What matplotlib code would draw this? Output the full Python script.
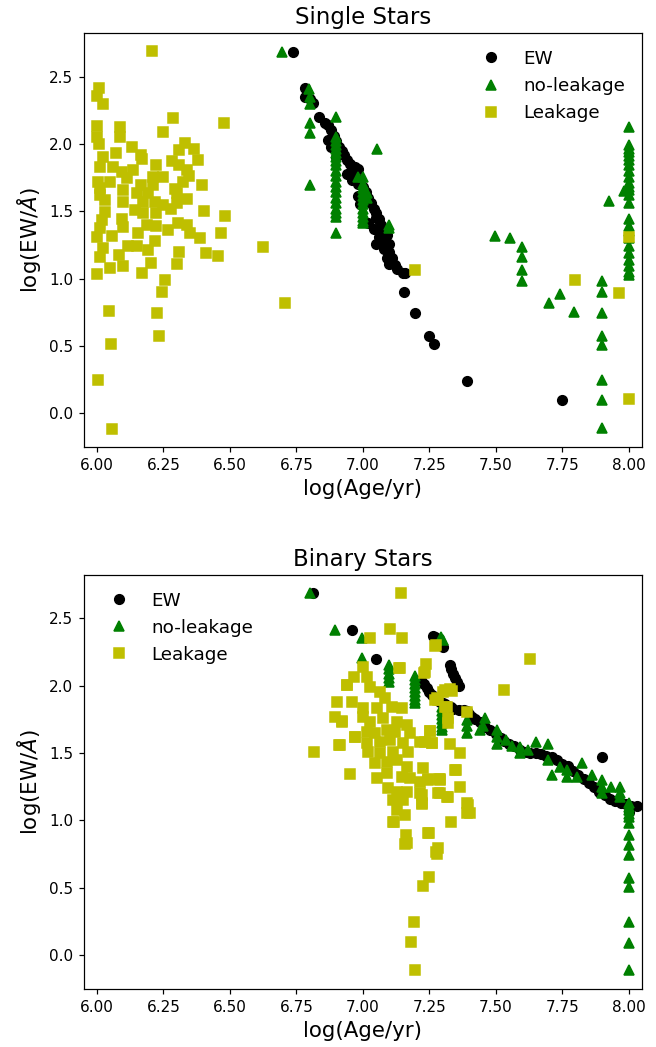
import matplotlib
matplotlib.use('Agg')
import matplotlib.pyplot as plt

# Single stars
# ------------
single_ew_age = [6.738, 6.782, 6.782, 6.80, 6.813, 6.836, 6.857,
                 6.87, 6.88, 6.87, 6.88, 6.89, 6.90, 6.90, 6.91, 6.92, 6.93, 6.94, 6.94,
                 6.95, 6.96, 6.97, 6.98, 6.96, 6.97, 6.98, 6.99, 7.00, 6.98, 7.01, 7.02,
                 6.99, 7.03, 7.04, 7.05, 7.05, 7.06, 7.02, 7.07, 7.04, 7.08, 7.06, 7.09,
                 7.05, 7.08, 7.10, 7.08, 7.10, 7.09, 7.11, 7.10, 7.12, 7.13, 7.15,
                 7.158, 7.156, 7.196, 7.249, 7.269, 7.393, 7.748]
single_ew_val = [2.685, 2.413, 2.35, 2.33, 2.30, 2.197, 2.153,
                 2.14, 2.10, 2.03, 1.98, 2.06, 2.02, 1.905, 1.98, 1.95, 1.92, 1.88, 1.78,
                 1.85, 1.82, 1.83, 1.81, 1.73, 1.76, 1.70, 1.72, 1.68, 1.61, 1.64, 1.60,
                 1.55, 1.56, 1.52, 1.49, 1.45, 1.44, 1.41, 1.40, 1.37, 1.36, 1.31, 1.32,
                 1.26, 1.27, 1.26, 1.22, 1.20, 1.15, 1.15, 1.11, 1.10, 1.07, 1.04,
                 1.044, 0.903, 0.742, 0.574, 0.512, 0.242, 0.099]

single_noleak_age = [6.697, 6.798, 6.80, 6.80, 6.80, 6.80, 6.80, 6.898,
                     6.898, 6.898, 6.898, 6.898, 6.898, 6.898, 6.898, 6.898, 6.898, 6.898,
                     6.898, 6.898, 6.898, 6.898, 6.898, 6.898, 6.898, 6.898, 6.898,
                     7.055, 6.983, 7.002,
                     7.00, 7.00, 7.00, 7.00, 7.00, 7.00, 7.00, 7.00, 7.00, 7.00, 7.00,
                     7.014, 7.014, 7.099, 7.099,
                     7.497, 7.553, 7.60, 7.60, 7.60, 7.60, 7.70, 7.741, 7.794,
                     7.90, 7.90, 7.90, 7.90, 7.90, 7.90, 7.90, 7.90, 7.925,
                     8.00, 8.00, 8.00, 8.00, 8.00, 8.00, 8.00, 8.00, 8.00, 8.00, 8.00, 8.00,
                     8.00, 8.00, 8.00, 8.00, 8.00, 8.00, 8.00, 8.00, 8.00, 8.00, 8.00, 8.00,
                     7.983]
single_noleak_val = [2.682, 2.405, 2.35, 2.296, 2.153, 2.083, 1.695, 2.197,
                     2.054, 2.02, 1.99, 1.96, 1.93, 1.90, 1.87, 1.84, 1.80, 1.76,
                     1.72, 1.68, 1.64, 1.60, 1.56, 1.52, 1.49, 1.46, 1.336,
                     1.962, 1.757, 1.757,
                     1.70, 1.67, 1.64, 1.61, 1.58, 1.55, 1.52, 1.49, 1.46, 1.43, 1.41,
                     1.633, 1.60, 1.373, 1.40,
                     1.316, 1.299, 1.232, 1.163, 1.064, 0.985, 0.817, 0.883, 0.754,
                     0.985, 0.898, 0.742, 0.574, 0.507, 0.247, 0.099, -0.111, 1.576,
                     2.128, 1.991, 1.96, 1.94, 1.91, 1.88, 1.84, 1.80, 1.757, 1.71, 1.68, 1.66,
                     1.62, 1.56, 1.44, 1.39, 1.35, 1.30, 1.24, 1.19, 1.14, 1.09, 1.05, 1.03,
                     1.65]

single_leak_age = [6.207, 6.008, 6.00, 6.024, 6.287, 6.476, 6.00, 6.088, 6.248, 6.088,
                   6.00, 6.008, 6.130, 6.332, 6.364, 6.308, 6.070, 6.165, 6.021, 6.168,
                   6.380, 6.281, 6.223, 6.308, 6.011, 6.061, 6.337, 6.137, 6.093, 6.247,
                   6.209, 6.346, 6.112, 6.003, 6.049, 6.325, 6.396, 6.165, 6.209, 6.011,
                   6.099, 6.293, 6.149, 6.193, 6.011, 6.300, 6.337, 6.030, 6.099, 6.174,
                   6.218, 6.249, 6.300, 6.143, 6.174, 6.222, 6.030, 6.277, 6.402, 6.481,
                   6.018, 6.093, 6.097, 6.011, 6.222, 6.187, 6.306, 6.337, 6.268, 6.350,
                   6.155, 6.387, 6.465, 6.00, 6.058, 6.218, 6.118, 6.149, 6.021, 6.625,
                   6.191, 6.308, 6.409, 6.456, 6.084, 6.011, 6.302, 6.202, 6.097, 6.049,
                   6.168, 6.00, 6.255, 6.244, 6.046, 6.227, 6.054, 6.232, 6.004, 6.058,
                   6.706, 7.196, 8.00, 7.798, 7.963, 8.00]
single_leak_val = [2.687, 2.413, 2.356, 2.296, 2.195, 2.153, 2.135, 2.128, 2.088, 2.054,
                   2.054, 1.997, 1.979, 2.009, 1.962, 1.955, 1.930, 1.918, 1.905, 1.886,
                   1.880, 1.873, 1.843, 1.843, 1.831, 1.831, 1.806, 1.806, 1.794, 1.757,
                   1.757, 1.764, 1.745, 1.720, 1.720, 1.720, 1.695, 1.695, 1.695, 1.670,
                   1.658, 1.663, 1.633, 1.633, 1.621, 1.633, 1.589, 1.584, 1.571, 1.571,
                   1.571, 1.546, 1.564, 1.509, 1.489, 1.489, 1.497, 1.514, 1.502, 1.467,
                   1.435, 1.440, 1.385, 1.378, 1.393, 1.398, 1.411, 1.398, 1.361, 1.341,
                   1.336, 1.304, 1.336, 1.311, 1.316, 1.281, 1.242, 1.244, 1.229, 1.237,
                   1.212, 1.195, 1.188, 1.168, 1.175, 1.163, 1.106, 1.114, 1.094, 1.077,
                   1.044, 1.037, 0.987, 0.903, 0.760, 0.745, 0.512, 0.572, 0.245, -0.114,
                   0.821, 1.064, 1.307, 0.990, 0.891, 0.104]

# Binary stars
# ------------
binary_ew_age = [6.813, 6.958, 7.049,
                 7.262, 7.272, 7.285, 7.295, 7.302,
                 7.328, 7.333, 7.34, 7.347, 7.355, 7.363,
                 7.22, 7.23, 7.24, 7.25, 7.26, 7.27, 7.28, 7.29, 7.30, 7.31, 7.32, 7.33,
                 7.34, 7.36, 7.38, 7.39, 7.40, 7.41, 7.42, 7.44, 7.45, 7.46, 7.48, 7.50,
                 7.52, 7.53, 7.55, 7.57, 7.59, 7.61, 7.63, 7.65, 7.67, 7.69, 7.71, 7.73,
                 7.75, 7.77, 7.79, 7.81, 7.83, 7.85, 7.87, 7.89, 7.91, 7.93, 7.95, 7.97,
                 7.99, 8.01, 8.03, 7.898, 8.00]
binary_ew_val = [2.69, 2.413, 2.195,
                 2.37, 2.36, 2.345, 2.31, 2.29,
                 2.15, 2.12, 2.09, 2.06, 2.03, 2.00,
                 2.04, 2.01, 1.98, 1.95, 1.93, 1.91, 1.89, 1.88, 1.87, 1.86, 1.85, 1.84,
                 1.83, 1.82, 1.82, 1.81, 1.79, 1.77, 1.75, 1.73, 1.71, 1.69, 1.67, 1.64,
                 1.61, 1.59, 1.57, 1.55, 1.52, 1.51, 1.50, 1.50, 1.49, 1.48, 1.47, 1.45,
                 1.42, 1.40, 1.37, 1.34, 1.31, 1.28, 1.25, 1.21, 1.19, 1.16, 1.14, 1.13,
                 1.12, 1.11, 1.11, 1.472, 1.06]

binary_noleak_age = [6.80, 6.895, 6.995, 6.995,
                     7.098, 7.098, 7.098, 7.098, 7.098,
                     7.196, 7.196, 7.196, 7.196, 7.196, 7.196, 7.196, 7.196,
                     7.30, 7.295,
                     7.296, 7.296, 7.296, 7.296, 7.296, 7.296, 7.296,
                     7.39, 7.39, 7.39, 7.459, 7.44, 7.45, 7.503, 7.503, 7.503, 7.54, 7.56,
                     7.591, 7.591, 7.62, 7.653, 7.697, 7.697, 7.71, 7.741, 7.766, 7.766,
                     7.804, 7.825, 7.86, 7.898, 7.898, 7.898, 7.935, 7.967, 7.967, 7.967,
                     8.00, 8.00, 8.00, 8.00, 8.00, 8.00, 8.00, 8.00, 8.00, 8.00, 8.00,
                     8.00, 8.00, 8.00]
binary_noleak_val = [2.69, 2.413, 2.351, 2.203,
                     2.15, 2.12, 2.09, 2.06, 2.03,
                     2.07, 2.04, 2.01, 1.98, 1.95, 1.92, 1.89, 1.87,
                     2.34, 2.36,
                     1.84, 1.81, 1.78, 1.75, 1.72, 1.69, 1.67,
                     1.745, 1.70, 1.65, 1.757, 1.67, 1.70, 1.67, 1.62, 1.57, 1.596, 1.55,
                     1.546, 1.50, 1.52, 1.583, 1.566, 1.448, 1.336, 1.398, 1.373, 1.324,
                     1.324, 1.423, 1.336, 1.30, 1.25, 1.20, 1.25, 1.25, 1.20, 1.175,
                     1.126, 1.10, 1.076, 1.05, 1.027, 0.978, 0.891, 0.817, 0.742, 0.569,
                     0.507, 0.247, 0.091, -0.111]

binary_leak_age = [7.142, 7.102, 7.146, 7.027, 7.271, 7.239, 7.233, 7.14, 6.999, 6.967,
                   7.014, 6.941, 6.901, 6.96, 6.895, 6.92, 6.816, 6.911, 6.97, 6.951,
                   7.278, 7.328, 7.252, 7.328, 7.365, 7.349, 7.287, 7.227, 7.365, 7.29,
                   7.319, 7.221, 7.221, 7.331, 7.249, 7.28, 7.275, 7.249, 7.227, 7.192,
                   7.18, 7.197, 7.162, 7.158, 7.117, 7.158, 7.39, 7.39,
                   7.137, 7.229, 6.939, 7.027, 7.064, 7.083, 7.002, 7.052, 7.108, 7.146,
                   6.923, 7.002, 7.027, 7.077, 7.127, 7.165, 6.970, 7.014, 7.046, 7.09,
                   7.12, 7.177, 7.252, 6.914, 7.014, 7.064, 7.102, 7.152, 7.215, 7.259,
                   7.02, 7.064, 7.114, 7.171, 7.046, 7.09, 7.127, 7.165, 7.346, 7.052,
                   7.09, 7.146, 7.177, 7.215, 7.246, 7.29, 7.096, 7.127, 7.165, 7.215,
                   7.284, 7.315, 7.114, 7.152, 7.221, 7.127, 7.114, 7.246, 7.165, 7.284,
                   7.309, 7.284, 7.315, 7.334, 7.275, 7.628, 7.531, 7.302, 7.271, 7.309,
                   7.39, 7.321, 7.321, 7.259, 7.233, 7.246, 7.29, 7.397, 7.403]
binary_leak_val = [2.69, 2.418, 2.356, 2.356, 2.296, 2.158, 2.099, 2.128, 2.14, 2.066,
                   2.061, 2.005, 1.880, 1.876, 1.769, 1.732, 1.505, 1.559, 1.616, 1.342,
                   1.906, 1.975, 1.663, 1.566, 1.497, 1.373, 1.307, 1.386, 1.245, 1.20,
                   1.171, 1.188, 1.119, 0.99, 0.903, 0.75, 0.767, 0.577, 0.512, 0.247,
                   0.094, -0.111, 0.891, 0.822, 0.99, 1.039, 1.126, 1.052,
                   2.133, 2.091, 2.004, 1.992, 1.955, 1.906, 1.831, 1.831, 1.843, 1.831,
                   1.739, 1.769, 1.732, 1.757, 1.732, 1.707, 1.621, 1.658, 1.646, 1.67,
                   1.658, 1.646, 1.665, 1.559, 1.572, 1.583, 1.596, 1.572, 1.583, 1.572,
                   1.509, 1.497, 1.509, 1.509, 1.423, 1.435, 1.448, 1.398, 1.373, 1.312,
                   1.349, 1.324, 1.312, 1.287, 1.299, 1.299, 1.238, 1.213, 1.213, 1.20,
                   1.205, 1.175, 1.151, 1.151, 1.126, 1.076, 0.99, 0.908, 0.829, 0.792,
                   1.967, 1.893, 1.843, 1.962, 2.301, 2.195, 1.967, 1.955, 1.893, 1.843,
                   1.806, 1.757, 1.72, 1.572, 1.583, 1.304, 1.304, 1.114, 1.057]


def draw_panel(ax, ew, noleak, leak, title, legend_loc):
    ax.plot(ew[0], ew[1], 'ko', markersize=6.3, label='EW', linestyle='none')
    ax.plot(noleak[0], noleak[1], 'g^', markersize=6.3, label='no-leakage', linestyle='none')
    ax.plot(leak[0], leak[1], 'ys', markersize=6.3, label='Leakage', linestyle='none')
    ax.set_xlim(5.95, 8.05)
    ax.set_ylim(-0.254, 2.821)
    ax.set_xticks([6.00, 6.25, 6.50, 6.75, 7.00, 7.25, 7.50, 7.75, 8.00])
    ax.set_xticklabels(['6.00', '6.25', '6.50', '6.75', '7.00', '7.25', '7.50', '7.75', '8.00'])
    ax.tick_params(labelsize=10)
    ax.set_title(title, fontsize=15)
    ax.set_xlabel('log(Age/yr)', fontsize=14)
    ax.set_ylabel(r'log(EW/$\AA$)', fontsize=14)
    ax.legend(loc=legend_loc, frameon=False, fontsize=12)


fig = plt.figure(figsize=(656/110, 1047/110), dpi=110)
ax1 = fig.add_axes([0.1276, 0.5726, 0.8511, 0.3956])
ax2 = fig.add_axes([0.1276, 0.0551, 0.8511, 0.3957])

draw_panel(ax1, (single_ew_age, single_ew_val), (single_noleak_age, single_noleak_val),
           (single_leak_age, single_leak_val), 'Single Stars', 'upper right')
draw_panel(ax2, (binary_ew_age, binary_ew_val), (binary_noleak_age, binary_noleak_val),
           (binary_leak_age, binary_leak_val), 'Binary Stars', 'upper left')

fig.savefig('out.png', dpi=110)
